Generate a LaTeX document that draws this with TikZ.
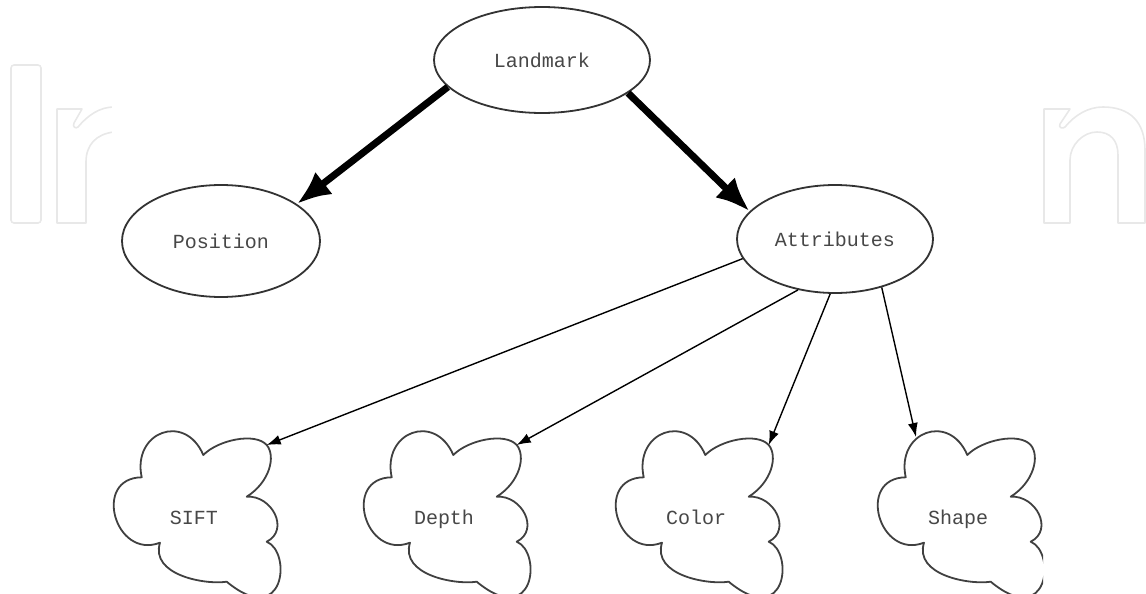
\documentclass[tikz,border=0pt]{standalone}
\usepackage{fontspec}
\newfontfamily\lblfont{Liberation Mono}
\usetikzlibrary{arrows.meta,shapes.geometric}
\begin{document}
\begin{tikzpicture}[x=0.5pt,y=-0.5pt,
  ell/.style={ellipse,draw=black!80,line width=0.9pt,inner sep=0pt,font=\lblfont\fontsize{10}{12}\selectfont,text=black!72},
  lbl/.style={font=\lblfont\fontsize{10}{12}\selectfont,text=black!72,inner sep=0pt,text height=7pt,text depth=2pt},
  bigarrow/.style={line width=3.5pt,-{Latex[length=17pt,width=14pt]}},
  smallarrow/.style={line width=0.7pt,-{Latex[length=7pt,width=5pt]}},
  cloudline/.style={draw=black!75,line width=0.9pt,line join=round},
  wm/.style={draw=black!9,line width=0.8pt,line join=round}]
\useasboundingbox (0,0) rectangle (1146,594);
% watermark
\draw[wm,rounded corners=1.5pt] (11,65) rectangle (41,223);
\begin{scope}
\clip (0,0) rectangle (112,594);
\draw[wm] (114,132) .. controls (96,134) and (86,145) .. (86,162) -- (86,223) -- (57,223) -- (57,109) -- (82,109) -- (74,123)
  .. controls (72,127) and (76,129) .. (78,127) .. controls (88,115) and (100,107) .. (114,107);
\end{scope}
\draw[wm] (1044,109) -- (1070,109) -- (1060,124) .. controls (1058,128) and (1063,129) .. (1065,127)
  .. controls (1075,115) and (1088,107) .. (1103,107) .. controls (1130,107) and (1145,122) .. (1145,150)
  -- (1145,223) -- (1118,223) -- (1118,155) .. controls (1118,140) and (1110,132) .. (1097,132)
  .. controls (1083,132) and (1070,145) .. (1070,160) -- (1070,223) -- (1044,223) -- cycle;
\fill[white] (112,0) rectangle (1043,594);
% ellipses
\node[ell,minimum width=108pt,minimum height=53pt] (landmark) at (542,60) {Landmark};
\node[ell,minimum width=99pt,minimum height=56pt] (position) at (221,241) {Position};
\node[ell,minimum width=98pt,minimum height=54pt] (attributes) at (835,239) {Attributes};
% clouds
\begin{scope}
\clip (112,0) rectangle (1043,594);
\foreach \dx/\nm/\txt in {0/sift/SIFT,250/depth/Depth,502/color/Color,764/shape/Shape}{
  \begin{scope}[shift={(\dx,0)}]
    \draw[cloudline] (141.7,477.3) .. controls (132,432) and (185,412) .. (203.3,455)
      .. controls (218,440) and (255,432) .. (266.7,445)
      .. controls (276,456) and (270,482) .. (246.7,496.7)
      .. controls (272,495) and (290,530) .. (266.7,541.7)
      .. controls (292,552) and (285,630) .. (226.7,581.7)
      .. controls (205,585) and (150,575) .. (160,542.7)
      .. controls (115,560) and (92,478) .. cycle;
    \node[lbl] (\nm) at (194,519) {\txt};
    \coordinate (\nm tip) at (266.7,445);
    \coordinate (\nm tipL) at (152,437);
  \end{scope}
}
\end{scope}
% arrows
\draw[bigarrow] (landmark.196.6) -- (position.26.6);
\draw[bigarrow] (landmark.339.6) -- (attributes.162.4);
\draw[smallarrow] (attributes.192.5) -- (sifttip);
\draw[smallarrow] (attributes.234.4) -- (depthtip);
\draw[smallarrow] (attributes.265) -- (colortip);
\draw[smallarrow] (attributes.314.4) -- (shapetipL);
\end{tikzpicture}
\end{document}
